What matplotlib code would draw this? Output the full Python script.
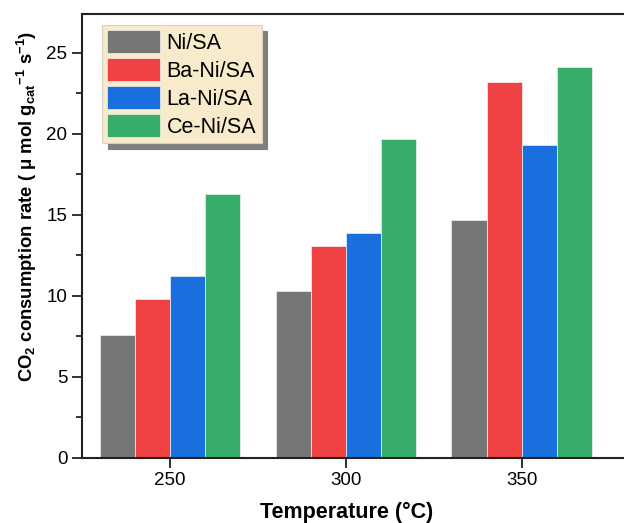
import numpy as np
import matplotlib
matplotlib.use("Agg")
import matplotlib.pyplot as plt

plt.rcParams['font.family'] = ['Liberation Sans', 'DejaVu Sans']
plt.rcParams['mathtext.fontset'] = 'custom'
plt.rcParams['mathtext.rm'] = 'Liberation Sans'
plt.rcParams['mathtext.bf'] = 'Liberation Sans:bold'
plt.rcParams['mathtext.default'] = 'bf'

# data
temperatures = [250, 300, 350]
catalysts = ['Ni/SA', 'Ba-Ni/SA', 'La-Ni/SA', 'Ce-Ni/SA']
ni_sa = [7.58, 10.30, 14.66]
ba_ni_sa = [9.78, 13.08, 23.21]
la_ni_sa = [11.24, 13.88, 19.33]
ce_ni_sa = [16.29, 19.67, 24.11]
series = [ni_sa, ba_ni_sa, la_ni_sa, ce_ni_sa]
colors = ['#767676', '#F04144', '#1A6FDF', '#37AD6B']

fig = plt.figure(figsize=(6.24, 5.23), dpi=100)
ax = fig.add_axes([0.1314, 0.1249, 0.878, 0.8484])

bar_w = 10
offsets = [-15, -5, 5, 15]
x = np.array(temperatures, dtype=float)
for vals, off, col, name in zip(series, offsets, colors, catalysts):
    ax.bar(x + off, vals, width=bar_w, color=col, edgecolor='#f0f0f0',
           linewidth=0.5, label=name, zorder=2)

ax.set_xlim(225, 380.7)
ax.set_ylim(0, 27.4)
ax.set_xticks(temperatures)
ax.set_yticks([0, 5, 10, 15, 20, 25])
ax.set_yticks(np.arange(2.5, 27, 5), minor=True)

for side in ['left', 'bottom', 'top', 'right']:
    ax.spines[side].set_linewidth(1.5)
    ax.spines[side].set_color('#222222')

ax.tick_params(axis='both', which='major', direction='out', length=7,
               width=1.3, labelsize=13.5, color='#222222')
ax.tick_params(axis='y', which='minor', direction='out', length=4, width=1.3,
               color='#222222')
ax.tick_params(axis='x', which='minor', bottom=False)

ax.set_xlabel('Temperature (°C)', fontsize=15.5, fontweight='bold')
ax.xaxis.set_label_coords((347 - 82) / 548, -0.1)
ax.set_ylabel(r'CO$_{2}$ consumption rate ( μ mol g$_{cat}$$^{-1}$ s$^{-1}$)',
              fontsize=13.3, fontweight='bold')
ax.yaxis.set_label_coords((39 - 82) / 548, 0.566)

leg = ax.legend(loc='upper left', bbox_to_anchor=(0.0365, 0.975),
                borderaxespad=0, fontsize=15.5, frameon=True, fancybox=False,
                handlelength=2.45, handleheight=1.25, handletextpad=0.3,
                labelspacing=0.2, borderpad=0.25,
                shadow={'ox': 4, 'oy': -4, 'color': '#7f7f7f', 'alpha': 1})
leg.get_frame().set_facecolor('#F8EBCB')
leg.get_frame().set_edgecolor('#d8d0c0')
leg.get_frame().set_linewidth(0.8)
leg.get_frame().set_alpha(1)

fig.savefig('out.png', dpi=100)
